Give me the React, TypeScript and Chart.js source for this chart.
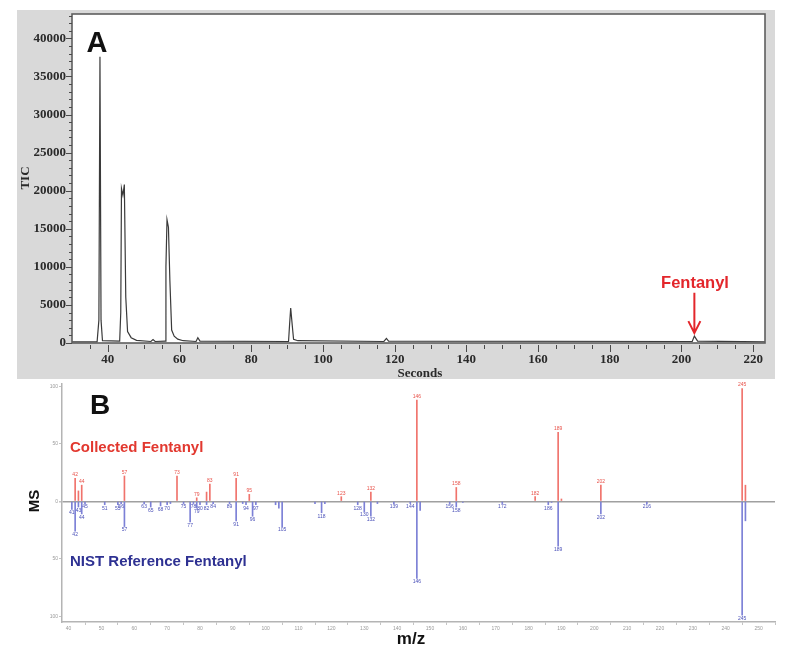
import React, { useEffect, useRef } from "react";
import { Chart, registerables } from "chart.js";

Chart.register(...registerables);

// ---------- Panel A: total ion chromatogram ----------
const ticSeconds = [
  30, 37.0, 37.5, 37.8, 38.1, 38.5, 43.3, 43.6, 43.8, 44.2, 44.6, 45.0, 45.5, 46.5, 48,
  52, 52.6, 53.2, 56.0, 56.2, 56.5, 56.9, 57.3, 57.8, 58.5, 59.5, 61, 64.6, 65.1, 65.7,
  90.4, 90.7, 91.0, 91.4, 91.8, 93, 117, 117.7, 118.3, 203, 203.6, 204.5, 223.3,
];
const ticCounts = [
  150, 150, 3000, 37600, 3000, 300, 250, 4000, 20300, 19400, 20800, 6000, 1500, 700, 350,
  200, 450, 200, 250, 10000, 16200, 15200, 8200, 1700, 900, 500, 300, 200, 700, 250,
  200, 2500, 4600, 2500, 500, 300, 200, 600, 250, 200, 900, 250, 150,
];
const ticYTicks = [0, 5000, 10000, 15000, 20000, 25000, 30000, 35000, 40000];
const ticXTicks = [40, 60, 80, 100, 120, 140, 160, 180, 200, 220];
const fentanylTime = 203.6;

// ---------- Panel B: mass spectra ----------
const collectedMz = [42, 43, 44, 57, 73, 79, 82, 83, 91, 95, 123, 132, 146, 158, 182, 189, 190, 202, 245, 246];
const collectedInt = [20, 9, 14, 22, 22, 3, 8, 15, 20, 6, 4, 8, 88, 12, 4, 60, 2, 14, 98, 14];
const collectedLabels = ["42", "", "44", "57", "73", "79", "", "83", "91", "95", "123", "132", "146", "158", "182", "189", "", "202", "245", ""];

const nistMz = [
  41, 42, 43, 44, 45, 51, 55, 56, 57, 63, 65, 68, 70, 71, 75, 77, 78, 79, 80, 82, 84, 89, 91, 93,
  94, 96, 97, 103, 104, 105, 115, 117, 118, 128, 130, 132, 134, 139, 144, 146, 147, 156, 158, 160,
  172, 186, 187, 189, 202, 216, 245, 246,
];
const nistInt = [
  -7, -26, -5, -11, -2, -3, -3, -2, -22, -2, -5, -4, -3, -2, -2, -18, -2, -6, -3, -3, -2, -2, -17, -2,
  -3, -13, -3, -3, -6, -22, -2, -10, -2, -3, -9, -13, -2, -2, -2, -67, -8, -2, -5, -1,
  -2, -3, -1, -39, -11, -2, -99, -17,
];
const nistLabels = [
  "41", "42", "43", "44", "45", "51", "55", "56", "57", "63", "65", "68", "70", "", "75", "77", "78", "79", "80", "82", "84", "89", "91", "",
  "94", "96", "97", "", "", "105", "", "118", "", "128", "130", "132", "", "139", "144", "146", "", "156", "158", "",
  "172", "186", "", "189", "202", "216", "245", "",
];
const msXTicks = [40, 50, 60, 70, 80, 90, 100, 110, 120, 130, 140, 150, 160, 170, 180, 190, 200, 210, 220, 230, 240, 250];
const msYTicks = [-100, -50, 0, 50, 100];

const SANS = '"Liberation Sans", Arial, sans-serif';
const SERIF = '"Liberation Serif", "Times New Roman", serif';

const panelAPlugin = {
  id: "panelA",
  beforeDraw(chart: any) {
    const { ctx, chartArea: a } = chart;
    ctx.save();
    ctx.fillStyle = "#ffffff";
    ctx.fillRect(a.left, a.top, a.right - a.left, a.bottom - a.top);
    ctx.restore();
  },
  afterDraw(chart: any) {
    const { ctx, chartArea: a } = chart;
    const xs = chart.scales.x;
    const ys = chart.scales.y;
    ctx.save();
    ctx.strokeStyle = "#5e5e5e";
    ctx.lineWidth = 1.6;
    ctx.strokeRect(a.left, a.top, a.right - a.left, a.bottom - a.top);
    ctx.lineWidth = 1;
    ctx.strokeStyle = "#4a4a4a";
    ctx.beginPath();
    for (let v = 0; v <= ys.max; v += 1000) {
      const y = Math.round(ys.getPixelForValue(v)) + 0.5;
      const len = v % 5000 === 0 ? 6 : 3;
      ctx.moveTo(a.left - len, y);
      ctx.lineTo(a.left, y);
    }
    for (let v = 35; v <= xs.max; v += 5) {
      const x = Math.round(xs.getPixelForValue(v)) + 0.5;
      const len = v % 20 === 0 ? 7 : 4;
      ctx.moveTo(x, a.bottom + 2);
      ctx.lineTo(x, a.bottom + 2 + len);
    }
    ctx.stroke();
    // arrow to fentanyl peak
    const ax = xs.getPixelForValue(fentanylTime);
    const yTail = ys.getPixelForValue(6600);
    const yTip = ys.getPixelForValue(1300);
    ctx.strokeStyle = "#e3262b";
    ctx.lineWidth = 2;
    ctx.beginPath();
    ctx.moveTo(ax, yTail);
    ctx.lineTo(ax, yTip);
    ctx.moveTo(ax - 6, yTip - 12);
    ctx.lineTo(ax, yTip);
    ctx.lineTo(ax + 6, yTip - 12);
    ctx.stroke();
    ctx.restore();
  },
};

const peakLabelPlugin = {
  id: "peakLabels",
  afterDatasetsDraw(chart: any) {
    const ctx = chart.ctx;
    chart.data.datasets.forEach((ds: any, di: number) => {
      const meta = chart.getDatasetMeta(di);
      ctx.save();
      ctx.font = `5px ${SANS}`;
      ctx.fillStyle = ds.labelColor;
      ctx.textAlign = "center";
      meta.data.forEach((el: any, i: number) => {
        const t = ds.peakLabels[i];
        if (!t) return;
        const up = ds.data[i].y >= 0;
        ctx.textBaseline = up ? "bottom" : "top";
        ctx.fillText(t, el.x, up ? el.y - 1 : el.y + 1);
      });
      ctx.restore();
    });
  },
};

export default function App() {
  const aRef = useRef<HTMLCanvasElement>(null);
  const bRef = useRef<HTMLCanvasElement>(null);

  useEffect(() => {
    const chartA = new Chart(aRef.current as HTMLCanvasElement, {
      type: "line",
      data: {
        datasets: [
          {
            data: ticSeconds.map((t, i) => ({ x: t, y: ticCounts[i] })),
            borderColor: "#3a3a3a",
            borderWidth: 1.2,
            pointRadius: 0,
            tension: 0,
            fill: false,
          },
        ],
      },
      options: {
        responsive: false,
        animation: false,
        layout: { padding: { top: 4, right: 10, left: 0, bottom: 0 } },
        plugins: { legend: { display: false }, tooltip: { enabled: false } },
        scales: {
          x: {
            type: "linear",
            min: 30,
            max: 223.3,
            afterBuildTicks: (s: any) => {
              s.ticks = ticXTicks.map((v) => ({ value: v }));
            },
            afterFit: (s: any) => {
              s.height = 36;
              s.paddingLeft = 0;
              s.paddingRight = 0;
            },
            grid: { display: false, drawTicks: false },
            border: { display: false },
            ticks: {
              padding: 9,
              autoSkip: false,
              maxRotation: 0,
              color: "#2a2a2a",
              font: { family: SERIF, size: 13, weight: "bold" },
              callback: (v: any) => String(v),
            },
          },
          y: {
            type: "linear",
            min: 0,
            max: 43200,
            afterBuildTicks: (s: any) => {
              s.ticks = ticYTicks.map((v) => ({ value: v }));
            },
            afterFit: (s: any) => {
              s.width = 55;
              s.paddingTop = 0;
              s.paddingBottom = 0;
            },
            grid: { display: false, drawTicks: false },
            border: { display: false },
            ticks: {
              padding: 6,
              autoSkip: false,
              color: "#2a2a2a",
              font: { family: SERIF, size: 13, weight: "bold" },
              callback: (v: any) => String(v),
            },
          },
        },
      } as any,
      plugins: [panelAPlugin],
    });

    const chartB = new Chart(bRef.current as HTMLCanvasElement, {
      type: "bar",
      data: {
        datasets: [
          {
            data: collectedMz.map((m, i) => ({ x: m, y: collectedInt[i] })),
            backgroundColor: "#f0736c",
            barThickness: 1,
            grouped: false,
            borderWidth: 0,
            peakLabels: collectedLabels,
            labelColor: "#e8524a",
          } as any,
          {
            data: nistMz.map((m, i) => ({ x: m, y: nistInt[i] })),
            backgroundColor: "#7c80d6",
            barThickness: 1,
            grouped: false,
            borderWidth: 0,
            peakLabels: nistLabels,
            labelColor: "#4a50b8",
          } as any,
        ],
      },
      options: {
        responsive: false,
        animation: false,
        layout: { padding: { top: 5, right: 13, left: 0, bottom: 0 } },
        plugins: { legend: { display: false }, tooltip: { enabled: false } },
        scales: {
          x: {
            type: "linear",
            min: 38,
            max: 255,
            offset: false,
            afterBuildTicks: (s: any) => {
              s.ticks = msXTicks.map((v) => ({ value: v }));
            },
            afterFit: (s: any) => {
              s.height = 34;
              s.paddingLeft = 0;
              s.paddingRight = 0;
            },
            grid: { drawOnChartArea: false, tickLength: 3, color: "#c4c4c4" },
            border: { color: "#b4b4b4", width: 1.5 },
            ticks: {
              padding: 1,
              autoSkip: false,
              maxRotation: 0,
              color: "#9a9a9a",
              font: { family: SANS, size: 5 },
            },
          },
          y: {
            type: "linear",
            min: -105,
            max: 102,
            afterBuildTicks: (s: any) => {
              s.ticks = msYTicks.map((v) => ({ value: v }));
            },
            afterFit: (s: any) => {
              s.width = 62;
              s.paddingTop = 0;
              s.paddingBottom = 0;
            },
            grid: {
              drawOnChartArea: true,
              tickLength: 3,
              tickColor: "#c4c4c4",
              color: (c: any) => (c.tick && c.tick.value === 0 ? "#a0a0a0" : "rgba(0,0,0,0)"),
              lineWidth: (c: any) => (c.tick && c.tick.value === 0 ? 1.5 : 1),
            },
            border: { color: "#b4b4b4", width: 1.5 },
            ticks: {
              padding: 1,
              autoSkip: false,
              color: "#9a9a9a",
              font: { family: SANS, size: 5 },
              callback: (v: any) => String(Math.abs(Number(v))),
            },
          },
        },
      } as any,
      plugins: [peakLabelPlugin],
    });

    return () => {
      chartA.destroy();
      chartB.destroy();
    };
  }, []);

  const center = (x: number, y: number, extra: React.CSSProperties = {}): React.CSSProperties => ({
    position: "absolute",
    left: x,
    top: y,
    transform: "translate(-50%, -50%)",
    whiteSpace: "nowrap",
    lineHeight: 1,
    ...extra,
  });

  return (
    <div
      style={{
        position: "absolute",
        left: 0,
        top: 0,
        width: 788,
        height: 656,
        background: "#ffffff",
        overflow: "hidden",
      }}
    >
      <canvas
        ref={aRef}
        width={758}
        height={369}
        style={{ position: "absolute", left: 17, top: 10, background: "#d9d9d9" }}
      />
      <canvas ref={bRef} width={788} height={277} style={{ position: "absolute", left: 0, top: 379 }} />

      <div style={center(24, 178, { fontFamily: SERIF, fontWeight: "bold", fontSize: 13, color: "#2a2a2a", transform: "translate(-50%, -50%) rotate(-90deg)" })}>
        TIC
      </div>
      <div style={center(420, 372, { fontFamily: SERIF, fontWeight: "bold", fontSize: 13, color: "#2a2a2a" })}>Seconds</div>
      <div style={center(97, 42, { fontFamily: SANS, fontWeight: "bold", fontSize: 29, color: "#111" })}>A</div>
      <div style={center(695, 282, { fontFamily: SANS, fontWeight: "bold", fontSize: 16.5, color: "#e3262b" })}>Fentanyl</div>

      <div style={center(100, 405, { fontFamily: SANS, fontWeight: "bold", fontSize: 28, color: "#111" })}>B</div>
      <div style={{ position: "absolute", left: 70, top: 446, transform: "translateY(-50%)", lineHeight: 1, whiteSpace: "nowrap", fontFamily: SANS, fontWeight: "bold", fontSize: 15, color: "#e2382f" }}>
        Collected Fentanyl
      </div>
      <div style={{ position: "absolute", left: 70, top: 560, transform: "translateY(-50%)", lineHeight: 1, whiteSpace: "nowrap", fontFamily: SANS, fontWeight: "bold", fontSize: 15, color: "#2e3192" }}>
        NIST Reference Fentanyl
      </div>
      <div style={center(33, 501, { fontFamily: SANS, fontWeight: "bold", fontSize: 15, color: "#111", transform: "translate(-50%, -50%) rotate(-90deg)" })}>
        MS
      </div>
      <div style={center(411, 638, { fontFamily: SANS, fontWeight: "bold", fontSize: 17, color: "#111" })}>m/z</div>
    </div>
  );
}
